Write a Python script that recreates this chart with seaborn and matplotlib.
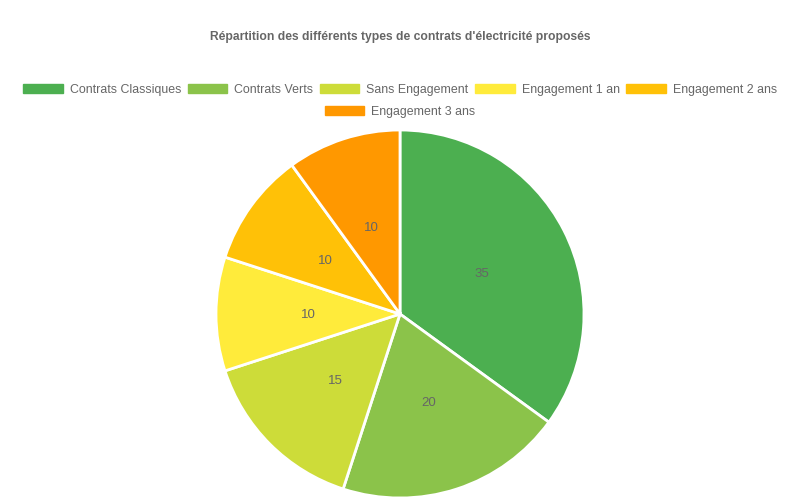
import matplotlib
matplotlib.use("Agg")
import matplotlib.pyplot as plt
import seaborn as sns
from matplotlib.patches import Patch

sns.set_theme(style="white")
plt.rcParams['font.family'] = ['Liberation Sans', 'DejaVu Sans']

categories = ["Contrats Classiques", "Contrats Verts", "Sans Engagement",
              "Engagement 1 an", "Engagement 2 ans", "Engagement 3 ans"]
values = [35, 20, 15, 10, 10, 10]
colors = ["#4CAF50", "#8BC34A", "#CDDC39", "#FFEB3B", "#FFC107", "#FF9800"]
title = "Répartition des différents types de contrats d'électricité proposés"

fig = plt.figure(figsize=(8, 5), dpi=100)
ax = fig.add_axes([0.27, 0.004, 0.46, 0.736])
wedges, texts = ax.pie(values, colors=colors, startangle=90, counterclock=False,
                       labels=[str(v) for v in values], labeldistance=0.5,
                       wedgeprops=dict(edgecolor="white", linewidth=2),
                       textprops=dict(color="#666666", fontsize=9.5))
for t in texts:
    t.set_ha("center")
    t.set_va("center_baseline")
ax.set_xlim(-1.0, 1.0)
ax.set_ylim(-1.0, 1.0)
ax.set_aspect("equal")
ax.axis("off")

fig.text(0.5, 1 - 37/500, title, ha="center", va="center",
         fontsize=8.7, fontweight="bold", color="#666666")

handles = [Patch(facecolor=c, edgecolor=c) for c in colors]
common = dict(frameon=False, fontsize=8.9, handlelength=3.2, handleheight=0.8,
              handletextpad=0.55, columnspacing=0.55, labelcolor="#666666",
              borderpad=0, borderaxespad=0)
leg1 = fig.legend(handles[:5], categories[:5], ncol=5, loc="center",
                  bbox_to_anchor=(0.5, 1 - 90/500), **common)
leg2 = fig.legend(handles[5:], categories[5:], ncol=1, loc="center",
                  bbox_to_anchor=(0.5, 1 - 112/500), **common)

fig.savefig("out.png", dpi=100, facecolor="white")
